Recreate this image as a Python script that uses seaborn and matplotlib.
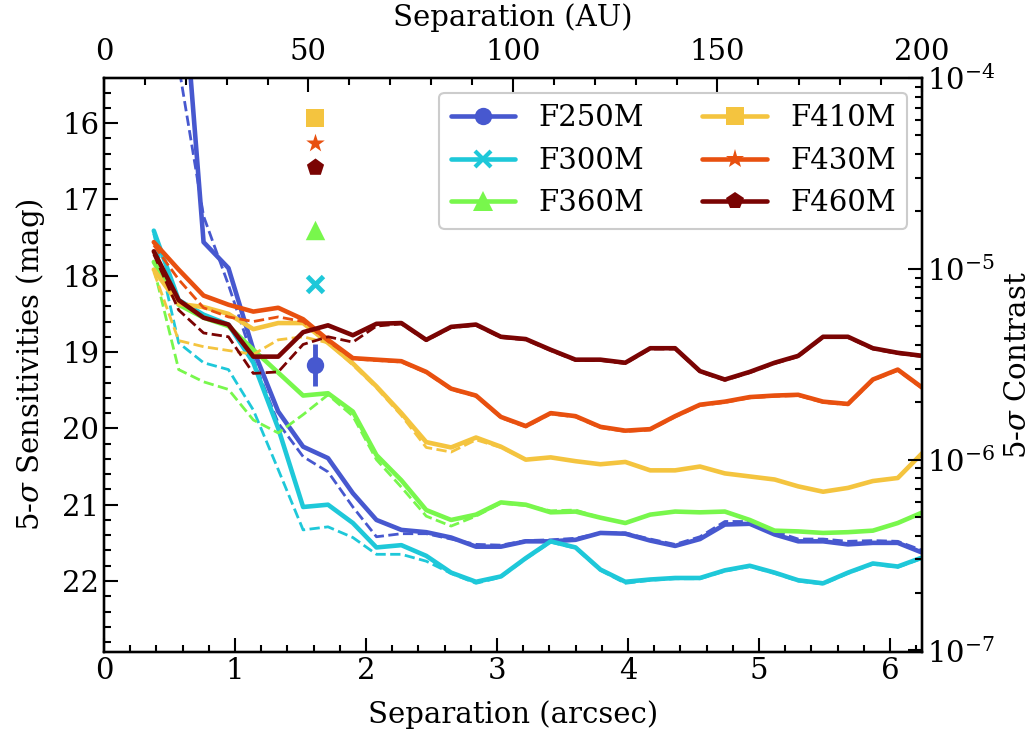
import numpy as np
import pandas as pd
import matplotlib
matplotlib.use("Agg")
import matplotlib.pyplot as plt
import seaborn as sns
from matplotlib.lines import Line2D
from matplotlib.ticker import MultipleLocator, LogLocator, NullFormatter, FixedLocator

# ---------------- data ----------------
sep = [0.38, 0.57, 0.76, 0.95, 1.14, 1.33, 1.52, 1.71, 1.90, 2.08, 2.27, 2.46, 2.65, 2.84,
       3.03, 3.22, 3.41, 3.60, 3.79, 3.98, 4.17, 4.36, 4.55, 4.74, 4.93, 5.12, 5.30, 5.49,
       5.68, 5.87, 6.06, 6.25]

filters = ["F250M", "F300M", "F360M", "F410M", "F430M", "F460M"]

f250_solid = [11.0, 13.4, 17.56, 17.90, 18.97, 19.78, 20.24, 20.39, 20.85, 21.20, 21.33, 21.36,
              21.43, 21.55, 21.55, 21.48, 21.48, 21.46, 21.37, 21.38, 21.47, 21.54, 21.45, 21.26,
              21.25, 21.39, 21.48, 21.48, 21.52, 21.50, 21.50, 21.63]
f250_dash = [12.5, 15.25, 17.22, 18.12, 19.10, 19.93, 20.37, 20.57, 21.03, 21.42, 21.38, 21.38,
             21.45, 21.52, 21.53, 21.47, 21.46, 21.44, 21.37, 21.37, 21.45, 21.52, 21.42, 21.22,
             21.22, 21.35, 21.45, 21.45, 21.48, 21.47, 21.48, 21.60]
f300_solid = [17.41, 18.32, 18.51, 18.64, 19.14, 20.00, 21.03, 21.00, 21.24, 21.56, 21.53, 21.67,
              21.89, 22.01, 21.94, 21.70, 21.48, 21.56, 21.85, 22.01, 21.98, 21.96, 21.96, 21.86,
              21.80, 21.89, 21.99, 22.03, 21.89, 21.77, 21.81, 21.69]
f300_dash = [17.45, 18.88, 19.14, 19.23, 19.76, 20.54, 21.33, 21.29, 21.43, 21.65, 21.65, 21.74,
             21.90, 22.03, 21.95, 21.71, 21.49, 21.57, 21.86, 22.03, 21.99, 21.97, 21.97, 21.87,
             21.81, 21.90, 22.00, 22.04, 21.90, 21.78, 21.82, 21.70]
f360_solid = [17.82, 18.38, 18.55, 18.66, 18.97, 19.27, 19.57, 19.54, 19.78, 20.35, 20.68, 21.07,
              21.20, 21.13, 20.97, 21.00, 21.10, 21.09, 21.17, 21.24, 21.13, 21.09, 21.10, 21.09,
              21.20, 21.34, 21.35, 21.37, 21.36, 21.34, 21.24, 21.10]
f360_dash = [17.90, 19.23, 19.39, 19.49, 19.89, 20.06, 19.82, 19.56, 19.84, 20.41, 20.77, 21.15,
             21.28, 21.15, 20.98, 21.01, 21.08, 21.07, 21.17, 21.24, 21.13, 21.09, 21.10, 21.09,
             21.20, 21.34, 21.35, 21.37, 21.36, 21.34, 21.24, 21.10]
f410_solid = [17.92, 18.37, 18.41, 18.50, 18.70, 18.62, 18.62, 18.88, 19.15, 19.45, 19.80, 20.18,
              20.25, 20.12, 20.24, 20.41, 20.38, 20.43, 20.47, 20.44, 20.55, 20.55, 20.50, 20.59,
              20.63, 20.67, 20.76, 20.83, 20.78, 20.69, 20.65, 20.32]
f410_dash = [17.95, 18.85, 18.93, 18.98, 19.03, 18.84, 18.80, 18.88, 19.17, 19.47, 19.83, 20.25,
             20.31, 20.15, 20.25, 20.41, 20.38, 20.43, 20.47, 20.44, 20.55, 20.55, 20.50, 20.59,
             20.63, 20.67, 20.76, 20.83, 20.78, 20.69, 20.65, 20.32]
f430_solid = [17.56, 17.92, 18.26, 18.38, 18.47, 18.42, 18.57, 18.84, 19.08, 19.10, 19.12, 19.26,
              19.48, 19.57, 19.85, 19.97, 19.80, 19.84, 19.98, 20.03, 20.01, 19.84, 19.69, 19.65,
              19.59, 19.57, 19.56, 19.65, 19.68, 19.36, 19.23, 19.47]
f430_dash = [17.60, 18.05, 18.42, 18.54, 18.60, 18.54, 18.60, 18.86, 19.09, 19.11, 19.13, 19.27,
             19.49, 19.58, 19.86, 19.98, 19.81, 19.85, 19.99, 20.04, 20.02, 19.85, 19.70, 19.66,
             19.60, 19.58, 19.57, 19.66, 19.69, 19.37, 19.24, 19.48]
f460_solid = [17.68, 18.32, 18.55, 18.64, 19.06, 19.06, 18.74, 18.65, 18.78, 18.63, 18.62, 18.84,
              18.67, 18.64, 18.80, 18.83, 18.97, 19.10, 19.10, 19.14, 18.95, 18.95, 19.25, 19.36,
              19.26, 19.14, 19.05, 18.80, 18.80, 18.95, 19.01, 19.05]
f460_dash = [17.72, 18.45, 18.75, 18.80, 19.28, 19.26, 18.90, 18.80, 18.87, 18.66, 18.63, 18.85,
             18.68, 18.65, 18.81, 18.84, 18.98, 19.11, 19.11, 19.15, 18.96, 18.96, 19.26, 19.37,
             19.27, 19.15, 19.06, 18.81, 18.81, 18.96, 19.02, 19.06]

comp_sep = [1.61, 1.61, 1.61, 1.61, 1.61, 1.61]
comp_mag = [19.17, 18.11, 17.40, 15.93, 16.26, 16.58]
comp_err = [0.27, 0.0, 0.0, 0.0, 0.0, 0.0]

solid = [f250_solid, f300_solid, f360_solid, f410_solid, f430_solid, f460_solid]
dashed = [f250_dash, f300_dash, f360_dash, f410_dash, f430_dash, f460_dash]

# ---------------- style ----------------
colors = ["#4758cf", "#1ec8d9", "#78f74c", "#f4c43f", "#e8500f", "#7a0403"]
markers = ["o", "x", "^", "s", "*", "p"]
msizes = [12.5, 11.5, 14, 12.5, 14, 13]

sns.set_style("ticks")
plt.rcParams["font.family"] = ["DejaVu Serif"]
plt.rcParams["mathtext.fontset"] = "dejavuserif"
plt.rcParams["axes.unicode_minus"] = False
plt.rcParams["axes.edgecolor"] = "black"
plt.rcParams["xtick.color"] = "black"
plt.rcParams["ytick.color"] = "black"
plt.rcParams["text.color"] = "black"
plt.rcParams["axes.labelcolor"] = "black"

FS = 21
fig = plt.figure(figsize=(10.32, 7.34), dpi=100)
ax = fig.add_axes([0.1008, 0.1117, 0.7926, 0.782])

for i, f in enumerate(filters):
    sns.lineplot(x=sep, y=dashed[i], ax=ax, color=colors[i], lw=2.0, ls="--",
                 estimator=None, sort=False, legend=False)
    sns.lineplot(x=sep, y=solid[i], ax=ax, color=colors[i], lw=3.3,
                 estimator=None, sort=False, legend=False)

# companion points
ax.errorbar(comp_sep[0], comp_mag[0], yerr=comp_err[0], fmt="none",
            ecolor=colors[0], elinewidth=3.5, capsize=0, zorder=4)
for i, f in enumerate(filters):
    if markers[i] == "x":
        sns.scatterplot(x=[comp_sep[i]], y=[comp_mag[i]], ax=ax, color=colors[i],
                        marker="x", s=msizes[i] ** 2, linewidth=3.5, legend=False, zorder=5)
    else:
        sns.scatterplot(x=[comp_sep[i]], y=[comp_mag[i]], ax=ax, color=colors[i],
                        marker=markers[i], s=msizes[i] ** 2, linewidth=0, legend=False, zorder=5)

ymin_mag, ymax_mag = 15.41, 22.93
xmax = 6.245
ax.set_xlim(0, xmax)
ax.set_ylim(ymax_mag, ymin_mag)

ax.xaxis.set_major_locator(MultipleLocator(1))
ax.xaxis.set_minor_locator(MultipleLocator(0.2))
ax.yaxis.set_major_locator(MultipleLocator(1))
ax.yaxis.set_minor_locator(MultipleLocator(0.2))
ax.tick_params(which="both", direction="in", top=False, right=False,
               labelsize=FS, width=1.5)
ax.tick_params(which="major", length=10)
ax.tick_params(which="minor", length=5)
ax.set_xlabel("Separation (arcsec)", fontsize=FS, labelpad=11)
ax.set_ylabel(r"5-$\sigma$ Sensitivities (mag)", fontsize=FS, labelpad=11)
for s in ax.spines.values():
    s.set_linewidth(1.6)

# top axis: AU
dist_pc = 32.03
axt = ax.twiny()
axt.set_xlim(0, xmax * dist_pc)
axt.xaxis.set_major_locator(MultipleLocator(50))
axt.xaxis.set_minor_locator(MultipleLocator(10))
axt.tick_params(which="both", direction="in", labelsize=FS, width=1.5)
axt.tick_params(which="major", length=10, pad=9)
axt.tick_params(which="minor", length=5)
axt.set_xlabel("Separation (AU)", fontsize=FS, labelpad=8)

# right axis: contrast
m_star = ymin_mag - 10.0
def mag2c(m):
    return 10 ** (-0.4 * (m - m_star))
axr = ax.twinx()
axr.set_yscale("log")
axr.set_ylim(mag2c(ymax_mag), mag2c(ymin_mag))
axr.yaxis.set_major_locator(FixedLocator([1e-7, 1e-6, 1e-5, 1e-4]))
axr.yaxis.set_minor_locator(LogLocator(base=10, subs=np.arange(2, 10), numticks=20))
axr.yaxis.set_minor_formatter(NullFormatter())
axr.tick_params(which="both", direction="in", labelsize=FS, width=1.5)
axr.tick_params(which="major", length=10)
axr.tick_params(which="minor", length=5)
axr.set_ylabel(r"5-$\sigma$ Contrast", fontsize=FS, labelpad=6)
for a in (axt, axr):
    for s in a.spines.values():
        s.set_linewidth(1.6)

# legend
handles = [Line2D([0], [0], color=colors[i], lw=3.3, marker=markers[i], markersize=msizes[i],
                  markeredgewidth=(3 if markers[i] == "x" else 0)) for i in range(len(filters))]
leg = axr.legend(handles, filters, loc="upper right", ncol=2, fontsize=FS,
                 handlelength=2.2, columnspacing=2.0, borderaxespad=0.5,
                 frameon=True, fancybox=True, edgecolor="0.8", framealpha=1.0)
leg.get_frame().set_linewidth(1.5)

fig.savefig("out.png", dpi=100)
